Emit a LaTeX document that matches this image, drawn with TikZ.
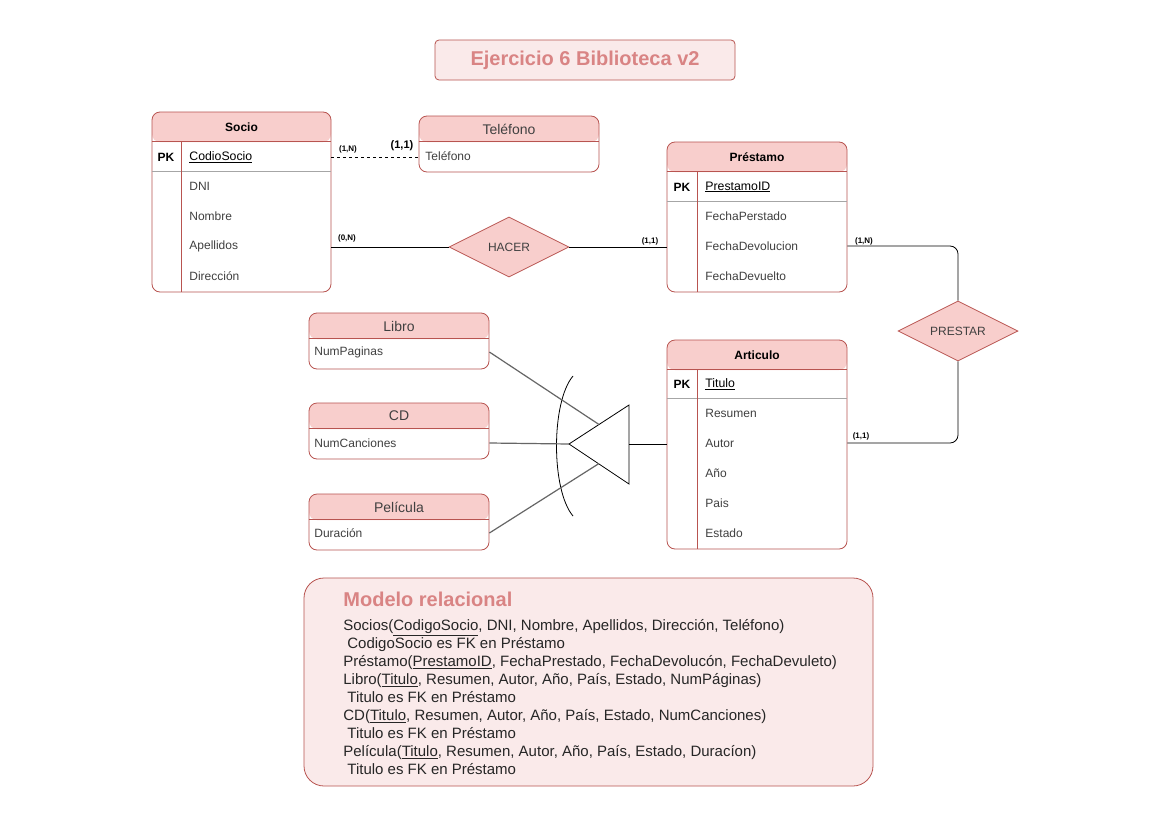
\documentclass[tikz,border=0pt]{standalone}
\usepackage{fontspec}
\setmainfont{Liberation Sans}
\usetikzlibrary{shapes.geometric,positioning}
\definecolor{hdrred}{HTML}{F8CECC}
\definecolor{edgered}{HTML}{B85450}
\definecolor{palered}{HTML}{FAEAEA}
\definecolor{titlered}{HTML}{D98484}
\definecolor{rowgray}{HTML}{404040}

\begin{document}
\begin{tikzpicture}[x=1pt,y=-1pt,line width=0.8pt,
 ent/.style={draw=edgered,rounded corners=8pt,fill=white,inner sep=0pt,
  path picture={\fill[hdrred] (path picture bounding box.north west) rectangle ([yshift=-#1 pt]path picture bounding box.north east);}},
 ent/.default=30,
 hd/.style={font=\bfseries\fontsize{12}{14}\selectfont},
 hdl/.style={text=rowgray,font=\fontsize{14}{16}\selectfont},
 row/.style={anchor=west,inner sep=0pt,text=rowgray,font=\fontsize{12}{14}\selectfont},
 pk/.style={inner sep=0pt,font=\bfseries\fontsize{12}{14}\selectfont},
 key/.style={anchor=west,inner sep=0pt,font=\fontsize{12.3}{14}\selectfont},
 rel/.style={diamond,draw=edgered,fill=hdrred,shape aspect=2,minimum width=120pt,minimum height=60pt,inner sep=0pt,font=\fontsize{12}{14}\selectfont,text=rowgray},
 card/.style={inner sep=0pt,font=\bfseries\fontsize{8}{9}\selectfont},
 hsep/.style={draw=edgered},
 rsep/.style={draw=gray!70},
 genl/.style={draw=black!60,line width=1.2pt}]
\useasboundingbox[fill=white] (0,0) rectangle (1169,827);

% title
\node[draw=edgered,fill=palered,rounded corners=4pt,minimum width=300pt,minimum height=40pt,
 text=titlered,font=\bfseries\fontsize{20}{24}\selectfont] (title) at (585,60) {Ejercicio 6 Biblioteca v2};

% Socio
\node[ent,minimum width=179pt,minimum height=180pt] (socio) at (241.5,202) {};
\node[hd] at (241.5,127) {Socio};
\draw[hsep] ([yshift=-30pt]socio.north west) -- ([yshift=-30pt]socio.north east);
\draw[rsep] ([yshift=-60pt]socio.north west) -- ([yshift=-60pt]socio.north east);
\draw[hsep] (181,142) -- (181,292);
\node[pk] at (166,157) {PK};
\node[key] (codio) at (189,157) {\underline{CodioSocio}};
\node[row] (dni) at (189,186) {DNI};
\node[row] (nombre) at (189,216) {Nombre};
\node[row] (apell) at (189,246) {Apellidos};
\node[row] (direc) at (189,276) {Dirección};

% Telefono
\node[ent=26,minimum width=180pt,minimum height=56pt] (telefono) at (509,144) {};
\node[hdl] at (509,129) {Teléfono};
\draw[hsep] ([yshift=-26pt]telefono.north west) -- ([yshift=-26pt]telefono.north east);
\node[row] (telrow) at (425,156) {Teléfono};

% Prestamo
\node[ent,minimum width=180pt,minimum height=150pt] (prestamo) at (757,217) {};
\node[hd] at (757,157) {Préstamo};
\draw[hsep] ([yshift=-30pt]prestamo.north west) -- ([yshift=-30pt]prestamo.north east);
\draw[rsep] ([yshift=-60pt]prestamo.north west) -- ([yshift=-60pt]prestamo.north east);
\draw[hsep] (697,172) -- (697,292);
\node[pk] at (682,187) {PK};
\node[key] (prid) at (705,187) {\underline{PrestamoID}};
\node[row] (fprest) at (705,216) {FechaPerstado};
\node[row] (fdevol) at (705,246) {FechaDevolucion};
\node[row] (fdevu) at (705,276) {FechaDevuelto};

% Articulo
\node[ent,minimum width=180pt,minimum height=209pt] (articulo) at (757,444.5) {};
\node[hd] at (757,355) {Articulo};
\draw[hsep] ([yshift=-30pt]articulo.north west) -- ([yshift=-30pt]articulo.north east);
\draw[rsep] ([yshift=-59pt]articulo.north west) -- ([yshift=-59pt]articulo.north east);
\draw[hsep] (697,370) -- (697,549);
\node[pk] at (682,384) {PK};
\node[key] (titulo) at (705,384) {\underline{Titulo}};
\node[row] (resumen) at (705,413) {Resumen};
\node[row] (autor) at (705,443) {Autor};
\node[row] (anio) at (705,473) {Año};
\node[row] (pais) at (705,503) {Pais};
\node[row] (estado) at (705,533) {Estado};

% subtypes
\node[ent=26,minimum width=180pt,minimum height=56pt] (libro) at (399,341) {};
\node[hdl] at (399,326) {Libro};
\draw[hsep] ([yshift=-26pt]libro.north west) -- ([yshift=-26pt]libro.north east);
\node[row] (numpag) at (314,352) {NumPaginas};

\node[ent=26,minimum width=180pt,minimum height=56pt] (cd) at (399,431) {};
\node[hdl] at (399,416) {CD};
\draw[hsep] ([yshift=-26pt]cd.north west) -- ([yshift=-26pt]cd.north east);
\node[row] (numcan) at (314,443) {NumCanciones};

\node[ent=26,minimum width=180pt,minimum height=56pt] (pelicula) at (399,522) {};
\node[hdl] at (399,507) {Película};
\draw[hsep] ([yshift=-26pt]pelicula.north west) -- ([yshift=-26pt]pelicula.north east);
\node[row] (durac) at (314,533) {Duración};

% relationships
\node[rel] (hacer) at (509,247) {HACER};
\node[rel] (prestar) at (958,331) {PRESTAR};

% generalization
\coordinate (gtip) at (569,444);
\coordinate (gup) at (599,424.5);
\coordinate (glow) at (599,463.5);
\coordinate (gbase) at (629,444);
\draw (gtip) -- (629,405) -- (629,484) -- cycle;
\draw (573,376) .. controls (551,402) and (551,490) .. (573,516);

% connectors
\draw[dashed] (codio -| socio.east) -- (codio -| telefono.west);
\draw (hacer.west -| socio.east) -- (hacer.west);
\draw (hacer.east) -- (hacer.east -| prestamo.west);
\draw[rounded corners=8pt] (fdevol -| prestamo.east) -| (prestar.north);
\draw[rounded corners=8pt] (prestar.south) |- (autor -| articulo.east);
\draw[genl] (numpag -| libro.east) -- (gup);
\draw[genl] (numcan -| cd.east) -- (gtip);
\draw[genl] (durac -| pelicula.east) -- (glow);
\draw (gbase) -- (gbase -| articulo.west);

% cardinalities
\node[card] at (348,149) {(1,N)};
\node[card,font=\bfseries\fontsize{11}{12}\selectfont] at (402,146) {(1,1)};
\node[card] at (347,238) {(0,N)};
\node[card] at (650,241) {(1,1)};
\node[card] at (864,241) {(1,N)};
\node[card] at (861,436) {(1,1)};

% relational model
\node[draw=edgered,fill=palered,rounded corners=20pt,minimum width=569pt,minimum height=208pt] (modelo) at (588.5,682) {};
\node[anchor=west,inner sep=0pt,text=titlered,font=\bfseries\fontsize{20}{24}\selectfont] (mtitle) at (343,599) {Modelo relacional};
\node[anchor=north west,inner sep=0pt,align=left,text=black!85,font=\fontsize{15}{18}\selectfont] (mtext) at (343,619.5) {%
Socios(\underline{CodigoSocio}, DNI, Nombre, Apellidos, Dirección, Teléfono)\\
\hspace{4pt}CodigoSocio es FK en Préstamo\\
Préstamo(\underline{PrestamoID}, FechaPrestado, FechaDevolucón, FechaDevuleto)\\
Libro(\underline{Titulo}, Resumen, Autor, Año, País, Estado, NumPáginas)\\
\hspace{4pt}Titulo es FK en Préstamo\\
CD(\underline{Titulo}, Resumen, Autor, Año, País, Estado, NumCanciones)\\
\hspace{4pt}Titulo es FK en Préstamo\\
Película(\underline{Titulo}, Resumen, Autor, Año, País, Estado, Duracíon)\\
\hspace{4pt}Titulo es FK en Préstamo};
\end{tikzpicture}
\end{document}
